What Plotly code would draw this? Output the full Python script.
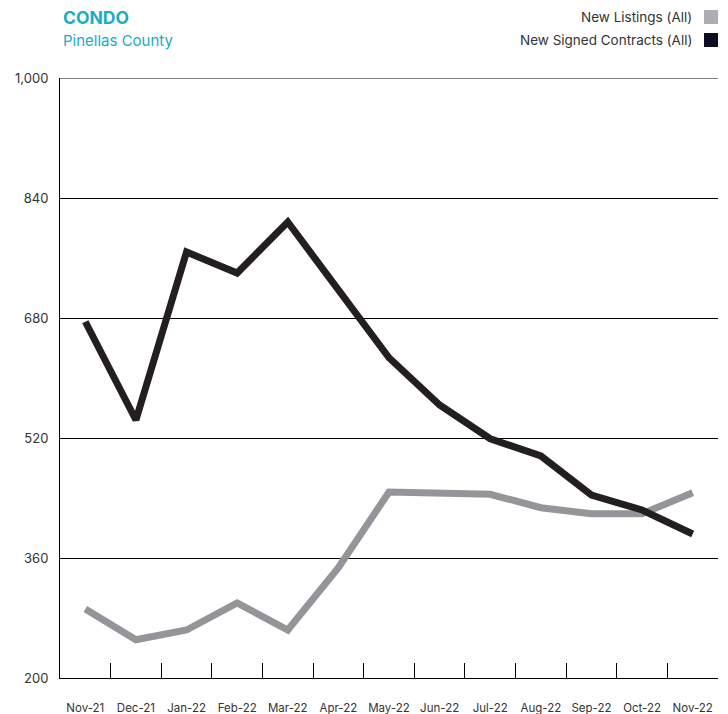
import plotly.graph_objects as go

months = ["Nov-21", "Dec-21", "Jan-22", "Feb-22", "Mar-22", "Apr-22", "May-22",
          "Jun-22", "Jul-22", "Aug-22", "Sep-22", "Oct-22", "Nov-22"]
new_listings = [292, 251, 264, 300, 264, 347, 448, 447, 445, 427, 419, 419, 447]
new_signed = [675, 544, 768, 740, 808, 717, 627, 564, 519, 496, 444, 424, 392]
y_ticks = [200, 360, 520, 680, 840, 1000]
y_tick_labels = ["200", "360", "520", "680", "840", "1,000"]

GRAY = "#939598"
BLACK = "#231f20"
TEAL = "#1aabc6"
FONT = "Inter"

fig = go.Figure()
fig.add_trace(go.Scatter(x=months, y=new_listings, mode="lines", name="New Listings (All)",
                         line=dict(color=GRAY, width=7), showlegend=False))
fig.add_trace(go.Scatter(x=months, y=new_signed, mode="lines", name="New Signed Contracts (All)",
                         line=dict(color=BLACK, width=7), showlegend=False))

fig.update_layout(
    width=728, height=714,
    margin=dict(l=60, r=10, t=78, b=36),
    paper_bgcolor="white", plot_bgcolor="white",
    font=dict(family=FONT, color="#333333"),
    xaxis=dict(type="category", range=[-0.5, 12.5], showgrid=False, automargin=False,
               showline=True, linecolor="black", linewidth=1, tickangle=0,
               ticks="inside", tickson="boundaries", ticklen=15, tickcolor="black",
               tickfont=dict(size=11.5, color="#333333"), ticklabelstandoff=19),
    yaxis=dict(range=[200, 1000], tickvals=y_ticks, ticktext=y_tick_labels, automargin=False,
               showgrid=True, gridcolor="black", gridwidth=1,
               showline=True, linecolor="black", linewidth=1, zeroline=False,
               tickfont=dict(size=13, color="#333333"), ticklabelstandoff=8),
)

# top gridline at the axis maximum
fig.add_shape(type="line", xref="paper", yref="y", x0=0, x1=1, y0=max(y_ticks), y1=max(y_ticks),
              line=dict(color="black", width=1))


def pixel_annot(text, px, py, anchor, size, color, bold=False):
    fig.add_annotation(text=f"<b>{text}</b>" if bold else text, xref="paper", yref="paper",
                       x=(px - 60) / 658, y=(678 - py) / 600, xanchor=anchor, yanchor="middle",
                       showarrow=False, font=dict(size=size, color=color, family=FONT))


pixel_annot("CONDO", 61, 18, "left", 17.5, TEAL, bold=True)
pixel_annot("Pinellas County", 61, 40, "left", 15, TEAL)
pixel_annot("New Listings (All)", 694, 17, "right", 13.5, "#333333")
pixel_annot("New Signed Contracts (All)", 694, 40, "right", 13.5, "#333333")

for py, col in [(17, "#adadb3"), (40, "#0d0d1f")]:
    fig.add_shape(type="rect", xref="paper", yref="paper",
                  x0=(704 - 60) / 658, x1=(718 - 60) / 658,
                  y0=(678 - (py + 7)) / 600, y1=(678 - (py - 7)) / 600,
                  fillcolor=col, line=dict(width=0))

fig.write_html("out.html")
